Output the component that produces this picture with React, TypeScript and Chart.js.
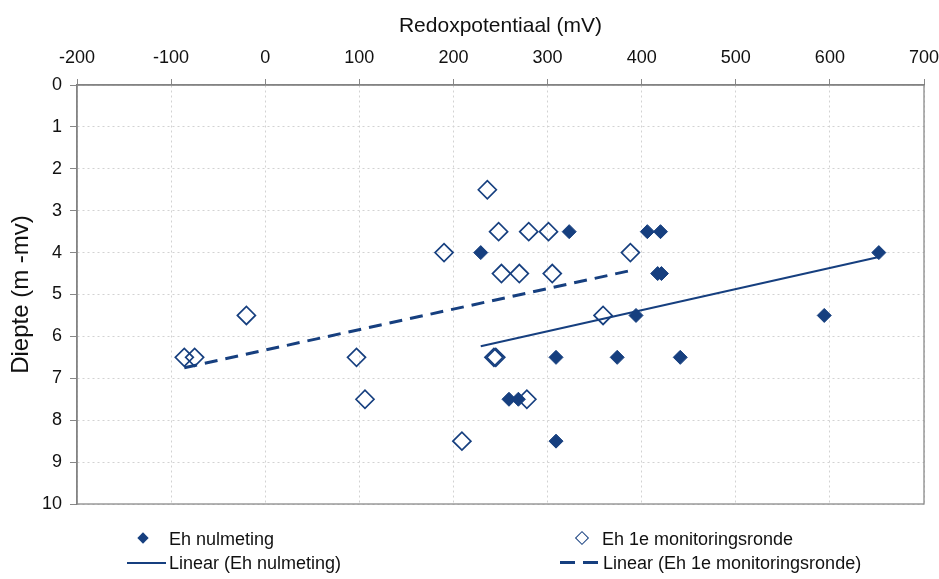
import React, { useEffect, useRef } from "react";
import { Chart, registerables } from "chart.js";

Chart.register(...registerables);

// Eh nulmeting (filled diamonds)
const nulX = [323, 406, 420, 229, 652, 417, 421, 394, 594, 309, 374, 441, 259, 269, 309];
const nulY = [3.5, 3.5, 3.5, 4, 4, 4.5, 4.5, 5.5, 5.5, 6.5, 6.5, 6.5, 7.5, 7.5, 8.5];

// Eh 1e monitoringsronde (open diamonds)
const monX = [236, 248, 280, 301, 190, 388, 251, 270, 305, -20, 359, -86, -75, 97, 243, 245, 106, 278, 209];
const monY = [2.5, 3.5, 3.5, 3.5, 4, 4, 4.5, 4.5, 4.5, 5.5, 5.5, 6.5, 6.5, 6.5, 6.5, 6.5, 7.5, 7.5, 8.5];

const xMin = -200;
const xMax = 700;
const xStep = 100;
const yMin = 0;
const yMax = 10;
const yStep = 1;

const xTitle = "Redoxpotentiaal (mV)";
const yTitle = "Diepte (m -mv)";
const labelNul = "Eh nulmeting";
const labelMon = "Eh 1e monitoringsronde";
const labelNulLin = "Linear (Eh nulmeting)";
const labelMonLin = "Linear (Eh 1e monitoringsronde)";

const NAVY = "#163f7f";
const FONT = "'Liberation Sans', Arial, sans-serif";

function toPoints(xs: number[], ys: number[]) {
  return xs.map((x, i) => ({ x, y: ys[i] }));
}

function trend(xs: number[], ys: number[]) {
  const n = xs.length;
  const mx = xs.reduce((a, b) => a + b, 0) / n;
  const my = ys.reduce((a, b) => a + b, 0) / n;
  let sxy = 0;
  let sxx = 0;
  for (let i = 0; i < n; i++) {
    sxy += (xs[i] - mx) * (ys[i] - my);
    sxx += (xs[i] - mx) * (xs[i] - mx);
  }
  const slope = sxy / sxx;
  const b = my - slope * mx;
  const lo = Math.min(...xs);
  const hi = Math.max(...xs);
  return [
    { x: lo, y: b + slope * lo },
    { x: hi, y: b + slope * hi },
  ];
}

const framePlugin = {
  id: "frame",
  beforeDatasetsDraw(chart: any) {
    const { ctx, chartArea } = chart;
    const { left, top, right, bottom } = chartArea;
    ctx.save();
    ctx.strokeStyle = "#8a8a8a";
    ctx.lineWidth = 1.3;
    ctx.strokeRect(left, top, right - left, bottom - top);
    ctx.restore();
  },
};

export default function App() {
  const ref = useRef<HTMLCanvasElement | null>(null);

  useEffect(() => {
    if (!ref.current) return;
    const chart = new Chart(ref.current, {
      type: "scatter",
      data: {
        datasets: [
          {
            label: labelNul,
            data: toPoints(nulX, nulY),
            pointStyle: "rectRot",
            pointRadius: 7,
            backgroundColor: NAVY,
            borderColor: NAVY,
            borderWidth: 1,
            order: 1,
          },
          {
            label: labelMon,
            data: toPoints(monX, monY),
            pointStyle: "rectRot",
            pointRadius: 9,
            backgroundColor: "rgba(255,255,255,0)",
            borderColor: NAVY,
            borderWidth: 1.7,
            order: 0,
          },
          {
            label: labelNulLin,
            data: trend(nulX, nulY),
            showLine: true,
            pointRadius: 0,
            borderColor: NAVY,
            borderWidth: 2,
            order: 3,
          },
          {
            label: labelMonLin,
            data: trend(monX, monY),
            showLine: true,
            pointRadius: 0,
            borderColor: NAVY,
            borderWidth: 3,
            borderDash: [13, 8],
            order: 2,
          },
        ],
      },
      options: {
        animation: false,
        responsive: false,
        maintainAspectRatio: false,
        layout: { padding: { left: 0, top: 0, right: 15, bottom: 75 } },
        plugins: { legend: { display: false }, tooltip: { enabled: false } },
        scales: {
          x: {
            type: "linear",
            position: "top",
            min: xMin,
            max: xMax,
            ticks: {
              stepSize: xStep,
              color: "#111",
              padding: 10,
              font: { family: FONT, size: 18 },
            },
            grid: {
              color: "#d2d2d2",
              tickColor: "#888",
              tickLength: 6,
              tickBorderDash: [],
            },
            border: { display: true, color: "#777", width: 1.5, dash: [2, 3] },
            title: {
              display: true,
              text: xTitle,
              color: "#111",
              font: { family: FONT, size: 21 },
              padding: { top: 14, bottom: 0 },
            },
            afterFit(s: any) {
              s.height = 85;
              s.paddingLeft = 0;
              s.paddingRight = 0;
            },
          },
          y: {
            type: "linear",
            reverse: true,
            min: yMin,
            max: yMax,
            ticks: {
              stepSize: yStep,
              color: "#111",
              padding: 8,
              font: { family: FONT, size: 18 },
            },
            grid: {
              color: "#d2d2d2",
              tickColor: "#888",
              tickLength: 7,
              tickBorderDash: [],
            },
            border: { display: true, color: "#777", width: 1.5, dash: [2, 3] },
            title: {
              display: true,
              text: yTitle,
              color: "#111",
              font: { family: FONT, size: 24 },
              padding: { top: 7, bottom: 0 },
            },
            afterFit(s: any) {
              s.width = 77;
              s.paddingTop = 0;
              s.paddingBottom = 0;
            },
          },
        },
      },
      plugins: [framePlugin],
    } as any);
    return () => chart.destroy();
  }, []);

  const text: React.CSSProperties = {
    position: "absolute",
    fontFamily: FONT,
    fontSize: 18,
    color: "#111",
    lineHeight: "22px",
    whiteSpace: "nowrap",
    transform: "translateY(-50%)",
  };

  return (
    <div style={{ position: "fixed", left: 0, top: 0, width: 939, height: 579, background: "#fff" }}>
      <canvas ref={ref} width={939} height={579} style={{ display: "block", width: 939, height: 579 }} />
      {/* legend row 1 */}
      <div
        style={{
          position: "absolute",
          left: 139,
          top: 534,
          width: 8,
          height: 8,
          background: NAVY,
          transform: "rotate(45deg)",
        }}
      />
      <div style={{ ...text, left: 169, top: 539 }}>{labelNul}</div>
      <div
        style={{
          position: "absolute",
          left: 577,
          top: 533,
          width: 8,
          height: 8,
          border: `1.7px solid ${NAVY}`,
          transform: "rotate(45deg)",
        }}
      />
      <div style={{ ...text, left: 602, top: 539 }}>{labelMon}</div>
      {/* legend row 2 */}
      <div style={{ position: "absolute", left: 127, top: 562, width: 39, height: 0, borderTop: `2px solid ${NAVY}` }} />
      <div style={{ ...text, left: 169, top: 563 }}>{labelNulLin}</div>
      <div style={{ position: "absolute", left: 560, top: 561, width: 15, height: 0, borderTop: `3px solid ${NAVY}` }} />
      <div style={{ position: "absolute", left: 583, top: 561, width: 15, height: 0, borderTop: `3px solid ${NAVY}` }} />
      <div style={{ ...text, left: 603, top: 563 }}>{labelMonLin}</div>
    </div>
  );
}
